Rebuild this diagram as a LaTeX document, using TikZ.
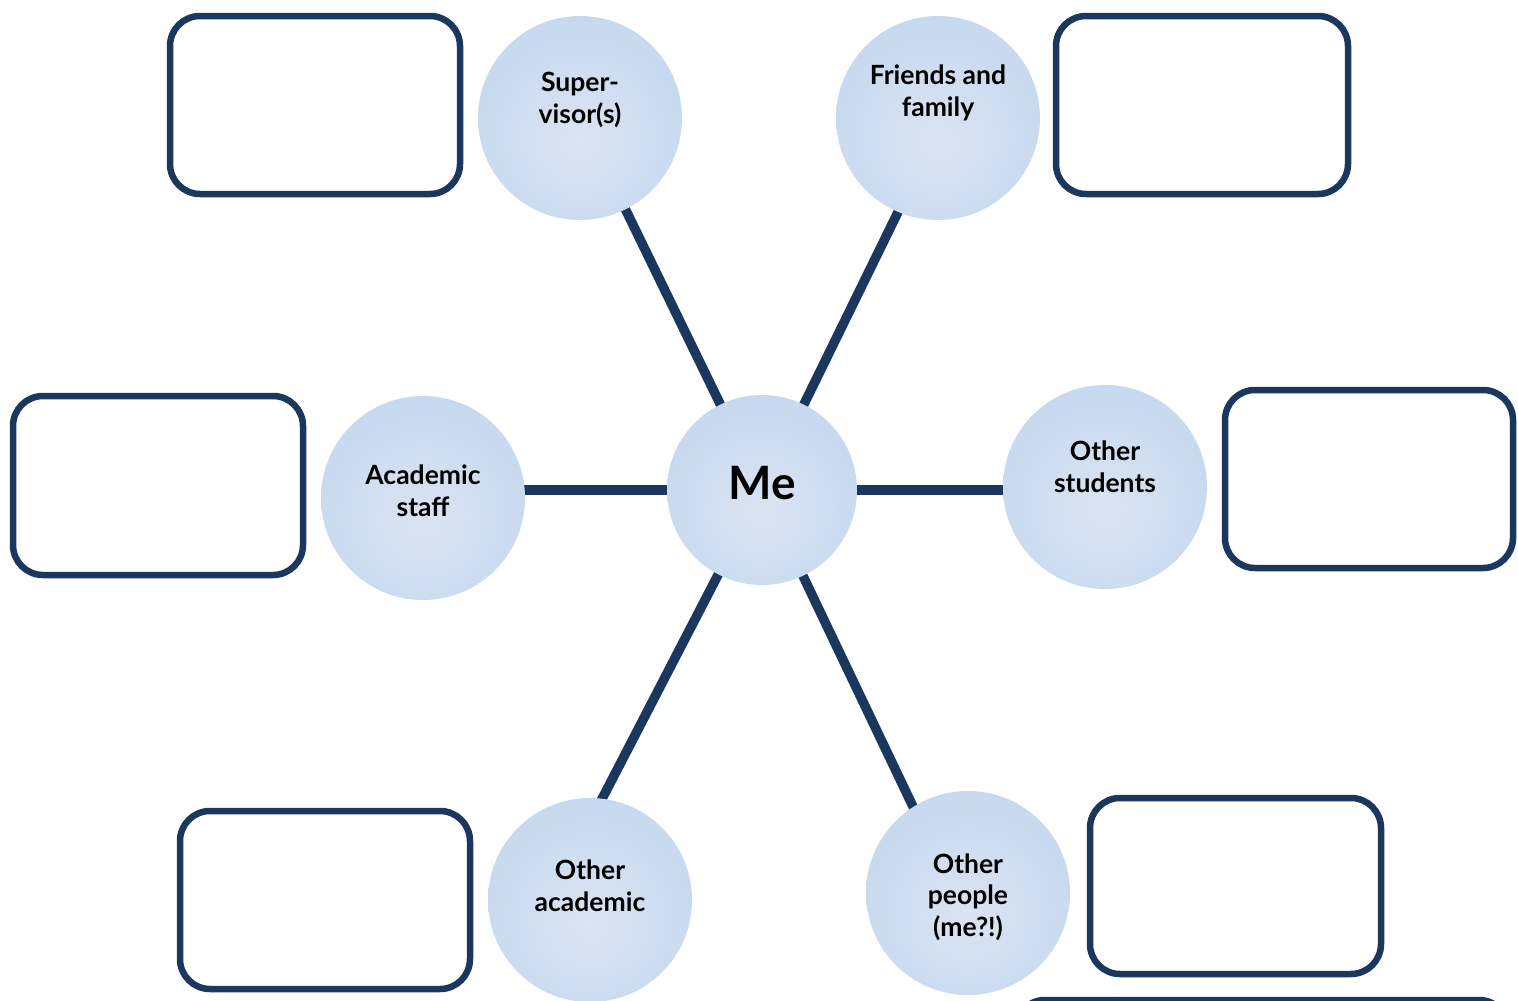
\documentclass[tikz,border=0pt]{standalone}
\usepackage{fontspec}
\setmainfont{Lato}
\definecolor{navy}{HTML}{1B375E}
\definecolor{bubout}{HTML}{C2D6EF}
\definecolor{bubin}{HTML}{DAE4F2}
\pgfdeclareradialshading{bubble}{\pgfpoint{0bp}{-6bp}}{color(0bp)=(bubin); color(36bp)=(bubout); color(80bp)=(bubout)}
\tikzset{
  bub/.style={circle, minimum size=204pt, inner sep=0pt, shading=bubble},
  lbl/.style={font=\bfseries\fontsize{26.5}{31.5}\selectfont, align=center, text=black},
  emptybox/.style={draw=navy, line width=6.5pt, rounded corners=30pt, fill=white, inner sep=0pt},
  link/.style={draw=navy, line width=9.5pt}
}
\begin{document}
\begin{tikzpicture}[x=1pt,y=1pt]
\useasboundingbox (0,0) rectangle (1518,-1001);
\clip (0,0) rectangle (1518,-1001);
% empty boxes
\node[emptybox, minimum width=290pt, minimum height=178pt] (btl) at (315,-105) {};
\node[emptybox, minimum width=292pt, minimum height=178pt] (btr) at (1202,-105) {};
\node[emptybox, minimum width=290pt, minimum height=179pt] (bl) at (158,-485.5) {};
\node[emptybox, minimum width=288pt, minimum height=178pt] (br) at (1369,-479) {};
\node[emptybox, minimum width=290pt, minimum height=178pt] (bbl) at (325,-900) {};
\node[emptybox, minimum width=291pt, minimum height=176pt] (bbr) at (1235.5,-886) {};
\node[emptybox, minimum width=494pt, minimum height=120pt] (bpart) at (1262,-1060) {};
% bubble positions and connector ends
\coordinate (cme) at (762,-490);
\coordinate (csup) at (580,-118);
\coordinate (cfam) at (938,-118);
\coordinate (cacad) at (423,-498);
\coordinate (cstud) at (1105,-487);
\coordinate (coacad) at (590,-900);
\coordinate (cpeople) at (968,-893);
\coordinate (esup) at (581,-118);
\coordinate (efam) at (944,-118);
\coordinate (eoacad) at (560,-880);
\coordinate (epeople) at (948,-880);
% connectors
\draw[link] (cme) -- (esup);
\draw[link] (cme) -- (efam);
\draw[link] (cme) -- (cme -| cacad);
\draw[link] (cme) -- (cme -| cstud);
\draw[link] (cme) -- (eoacad);
\draw[link] (cme) -- (epeople);
% bubbles
\node[bub, minimum size=190pt, label={[lbl, font=\bfseries\fontsize{46}{50}\selectfont, yshift=7pt]center:Me}] (me) at (cme) {};
\node[bub, label={[lbl, yshift=18pt]center:Super-\\visor(s)}] (sup) at (csup) {};
\node[bub, label={[lbl, yshift=25pt]center:Friends and\\family}] (fam) at (cfam) {};
\node[bub, label={[lbl, yshift=7pt]center:Academic\\staff}] (acad) at (cacad) {};
\node[bub, label={[lbl, yshift=20pt]center:Other\\students}] (stud) at (cstud) {};
\node[bub, label={[lbl, yshift=14pt]center:Other\\academic}] (oacad) at (coacad) {};
\node[bub, label={[lbl, yshift=-4pt]center:Other\\people\\(me?!)}] (people) at (cpeople) {};
\end{tikzpicture}
\end{document}
